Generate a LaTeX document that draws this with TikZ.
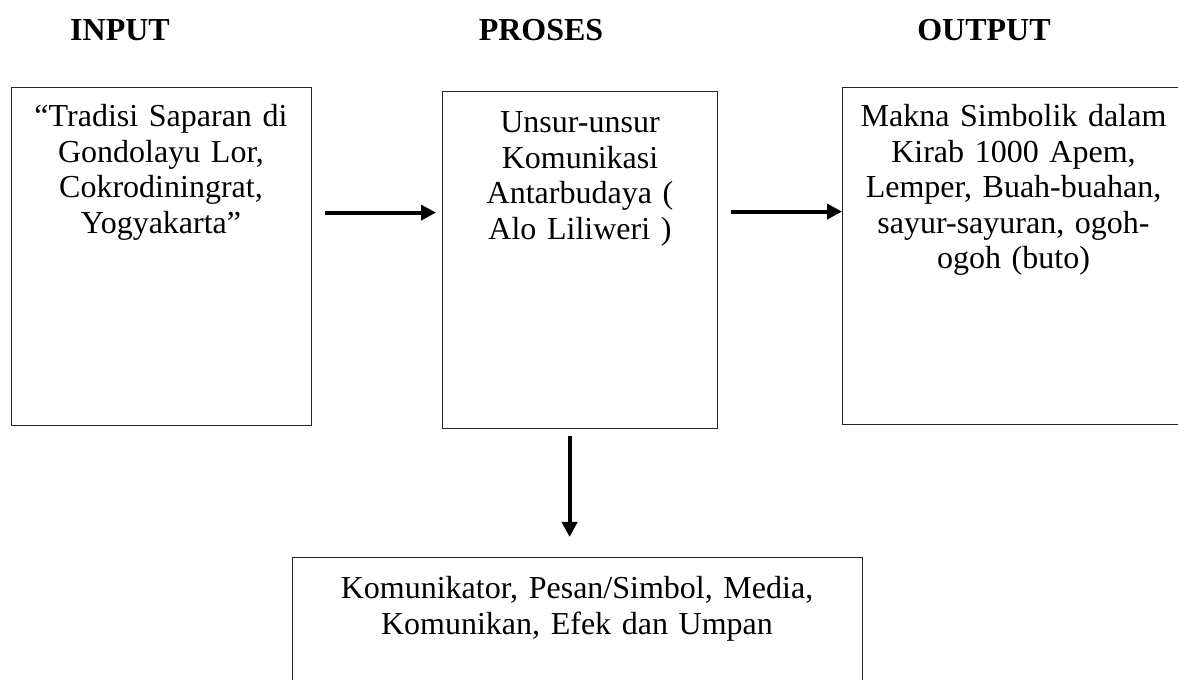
\documentclass[tikz,border=0pt]{standalone}
\usepackage{fontspec}
\setmainfont{Liberation Serif}
\usetikzlibrary{arrows.meta,calc}
\tikzset{
  box/.style={draw=black!85, line width=1.2pt, rectangle, inner sep=0pt, anchor=north west},
  txt/.style={inner sep=0pt, align=center, anchor=base, font=\fontsize{32}{35.5}\selectfont},
  head/.style={inner sep=0pt, anchor=base, font=\fontsize{32}{35.5}\selectfont\bfseries},
  arr/.style={line width=4pt, -{Triangle[length=15pt,width=15pt]}}
}
\begin{document}
\begin{tikzpicture}[x=1pt,y=1pt]
\useasboundingbox (0,0) rectangle (1178,680);
\clip (0,0) rectangle (1178,680);
% headings
\node[head] (hin) at (120,639) {INPUT};
\node[head] (hpr) at (541,639) {PROSES};
\node[head] (hout) at (984,639) {OUTPUT};
% boxes
\node[box, minimum width=300pt, minimum height=338pt] (b1) at (11,593) {};
\node[box, minimum width=275pt, minimum height=337pt] (b2) at (442,589) {};
\node[box, minimum width=343pt, minimum height=337pt] (b3) at (842,593) {};
\node[box, minimum width=570pt, minimum height=200pt] (b4) at (292,123) {};
% texts
\node[txt, text width=300pt] (t1) at (161,553) {“Tradisi Saparan di\\Gondolayu Lor,\\Cokrodiningrat,\\Yogyakarta”};
\node[txt, text width=275pt] (t2) at (580,547) {Unsur-unsur\\Komunikasi\\Antarbudaya (\\Alo Liliweri )};
\node[txt, text width=340pt] (t3) at (1013.5,553) {Makna Simbolik dalam\\Kirab 1000 Apem,\\Lemper, Buah-buahan,\\sayur-sayuran, ogoh-\\ogoh (buto)};
\node[txt, text width=560pt] (t4) at (577,81) {Komunikator, Pesan/Simbol, Media,\\Komunikan, Efek dan Umpan};
% arrows
\draw[arr] ([xshift=13pt,yshift=44pt]b1.east) -- ([xshift=-6pt,yshift=44pt]b1.east -| b2.west);
\draw[arr] ([xshift=13pt,yshift=48.5pt]b2.east) -- ([yshift=48.5pt]b2.east -| b3.west);
\draw[arr] ([xshift=-10.5pt,yshift=-7pt]b2.south) -- ([xshift=-10.5pt,yshift=20pt]b2.south |- b4.north);
\end{tikzpicture}
\end{document}
